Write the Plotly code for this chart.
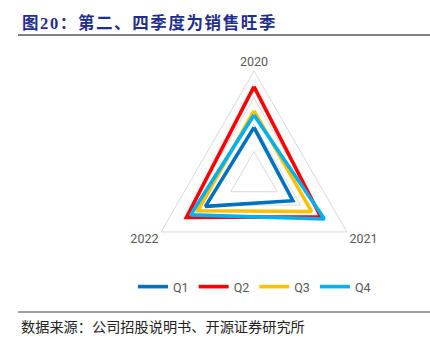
import plotly.graph_objects as go

years = ["2020", "2021", "2022"]
quarters = ["Q1", "Q2", "Q3", "Q4"]
q1 = [19.0, 16.7, 20.9]
q2 = [34.2, 28.7, 29.1]
q3 = [25.1, 24.8, 24.2]
q4 = [23.6, 30.3, 27.3]
series = [q1, q2, q3, q4]
colors = ["#0070C0", "#FF0000", "#FFC000", "#00B0F0"]

W, H = 430, 351
cx, cy, R = 254, 178.3, 107.3

fig = go.Figure()
for name, vals, col in zip(quarters, series, colors):
    fig.add_trace(go.Scatterpolar(
        r=vals + vals[:1], theta=years + years[:1], mode="lines", name=name,
        line=dict(color=col, width=3.6)))

fig.update_layout(
    width=W, height=H, margin=dict(l=0, r=0, t=0, b=0),
    paper_bgcolor="white", plot_bgcolor="white",
    polar=dict(
        domain=dict(x=[(cx - R) / W, (cx + R) / W], y=[(H - cy - R) / H, (H - cy + R) / H]),
        gridshape="linear", bgcolor="white",
        radialaxis=dict(range=[0, 40], dtick=10, showticklabels=False, ticks="",
                        showline=False, gridcolor="#D9D9D9", gridwidth=1),
        angularaxis=dict(direction="clockwise", rotation=90, showgrid=False, ticks="",
                         showline=True, linecolor="#D9D9D9", linewidth=1,
                         tickfont=dict(family="Roboto", size=12.5, color="#595959")),
    ),
    showlegend=True,
    legend=dict(orientation="h", x=133 / W, xanchor="left", y=(H - 287) / H, yanchor="middle",
                font=dict(family="Roboto", size=12.5, color="#595959"),
                itemwidth=30, bgcolor="rgba(0,0,0,0)"),
    annotations=[
        dict(text='<span style="letter-spacing:1.6px"><b>图20：第二、四季度为销售旺季</b></span>',
             x=20 / W, y=(H - 23) / H,
             xref="paper", yref="paper", xanchor="left", yanchor="middle", showarrow=False,
             font=dict(family="Liberation Serif, Noto Sans CJK SC", size=16.5, color="#1F2E8C")),
        dict(text="数据来源：公司招股说明书、开源证券研究所", x=19 / W, y=(H - 327) / H,
             xref="paper", yref="paper", xanchor="left", yanchor="middle", showarrow=False,
             font=dict(family="Liberation Serif, Noto Sans CJK SC", size=14.2, color="#222222")),
    ],
    shapes=[
        dict(type="line", xref="paper", yref="paper", x0=18 / W, x1=1, y0=(H - 35) / H, y1=(H - 35) / H,
             line=dict(color="#808080", width=2)),
        dict(type="line", xref="paper", yref="paper", x0=18 / W, x1=1, y0=(H - 312) / H, y1=(H - 312) / H,
             line=dict(color="#404040", width=1)),
    ],
)

fig.write_html("out.html")
